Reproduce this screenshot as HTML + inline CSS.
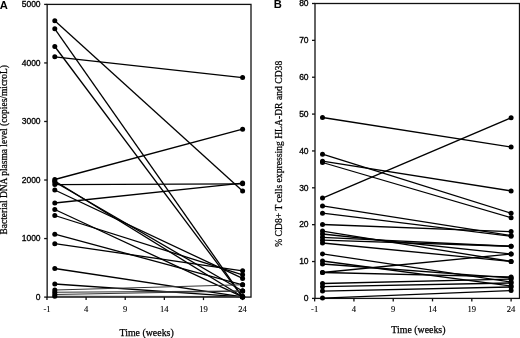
<!DOCTYPE html>
<html><head><meta charset="utf-8"><style>
html,body{margin:0;padding:0;background:#fff;}
body{width:520px;height:338px;overflow:hidden;}
svg{display:block;will-change:transform;}
.yt{font-family:"Liberation Sans",sans-serif;font-size:8.5px;fill:#000;stroke:#000;stroke-width:0.32px;}
.xt{font-family:"Liberation Serif",serif;font-size:8.6px;fill:#000;stroke:#000;stroke-width:0.12px;}
.ttl{font-family:"Liberation Serif",serif;font-size:9.9px;fill:#000;stroke:#000;stroke-width:0.25px;}
.yttl{font-family:"Liberation Serif",serif;font-size:9.45px;fill:#000;stroke:#000;stroke-width:0.25px;}
.pl{font-family:"Liberation Sans",sans-serif;font-size:11.2px;font-weight:bold;fill:#000;}
</style></head><body>
<svg width="520" height="338" viewBox="0 0 520 338">
<rect width="520" height="338" fill="#fff"/>
<rect x="47.15" y="4.4" width="203.85" height="292.70" fill="none" stroke="#111" stroke-width="1.3"/>
<line x1="44.15" y1="297.10" x2="47.15" y2="297.10" stroke="#111" stroke-width="1.3"/>
<line x1="44.15" y1="238.56" x2="47.15" y2="238.56" stroke="#111" stroke-width="1.3"/>
<line x1="44.15" y1="180.02" x2="47.15" y2="180.02" stroke="#111" stroke-width="1.3"/>
<line x1="44.15" y1="121.48" x2="47.15" y2="121.48" stroke="#111" stroke-width="1.3"/>
<line x1="44.15" y1="62.94" x2="47.15" y2="62.94" stroke="#111" stroke-width="1.3"/>
<line x1="44.15" y1="4.40" x2="47.15" y2="4.40" stroke="#111" stroke-width="1.3"/>
<line x1="46.97" y1="297.10" x2="46.97" y2="300.10" stroke="#111" stroke-width="1.3"/>
<line x1="86.10" y1="297.10" x2="86.10" y2="300.10" stroke="#111" stroke-width="1.3"/>
<line x1="125.22" y1="297.10" x2="125.22" y2="300.10" stroke="#111" stroke-width="1.3"/>
<line x1="164.35" y1="297.10" x2="164.35" y2="300.10" stroke="#111" stroke-width="1.3"/>
<line x1="203.48" y1="297.10" x2="203.48" y2="300.10" stroke="#111" stroke-width="1.3"/>
<line x1="242.60" y1="297.10" x2="242.60" y2="300.10" stroke="#111" stroke-width="1.3"/>
<line x1="54.8" y1="20.8" x2="242.6" y2="191.1" stroke="#000" stroke-width="1.3"/>
<line x1="54.8" y1="28.8" x2="242.6" y2="296.8" stroke="#000" stroke-width="1.3"/>
<line x1="54.8" y1="46.5" x2="242.6" y2="297.2" stroke="#000" stroke-width="1.3"/>
<line x1="54.8" y1="56.8" x2="242.6" y2="77.6" stroke="#000" stroke-width="1.3"/>
<line x1="54.8" y1="179.5" x2="242.6" y2="129.2" stroke="#000" stroke-width="1.3"/>
<line x1="54.8" y1="181" x2="242.6" y2="296.8" stroke="#000" stroke-width="1.3"/>
<line x1="54.8" y1="182" x2="242.6" y2="291.0" stroke="#000" stroke-width="1.3"/>
<line x1="54.8" y1="184.6" x2="242.6" y2="183.8" stroke="#000" stroke-width="1.3"/>
<line x1="54.8" y1="190" x2="242.6" y2="278.4" stroke="#000" stroke-width="1.3"/>
<line x1="54.8" y1="203" x2="242.6" y2="183.1" stroke="#000" stroke-width="1.3"/>
<line x1="54.8" y1="209.5" x2="242.6" y2="296.8" stroke="#000" stroke-width="1.3"/>
<line x1="54.8" y1="215.5" x2="242.6" y2="274.8" stroke="#000" stroke-width="1.3"/>
<line x1="54.8" y1="234.2" x2="242.6" y2="284.8" stroke="#000" stroke-width="1.3"/>
<line x1="54.8" y1="243.7" x2="242.6" y2="270.8" stroke="#000" stroke-width="1.3"/>
<line x1="54.8" y1="268.5" x2="242.6" y2="296.8" stroke="#000" stroke-width="1.3"/>
<line x1="54.8" y1="284" x2="242.6" y2="296.8" stroke="#000" stroke-width="1.3"/>
<line x1="54.8" y1="290" x2="242.6" y2="284.8" stroke="#333" stroke-width="1.05"/>
<line x1="54.8" y1="292.2" x2="242.6" y2="291.0" stroke="#333" stroke-width="1.05"/>
<line x1="54.8" y1="294.4" x2="242.6" y2="291.0" stroke="#333" stroke-width="1.05"/>
<line x1="54.8" y1="296.3" x2="242.6" y2="296.5" stroke="#333" stroke-width="1.05"/>
<circle cx="54.8" cy="20.8" r="2.5" fill="#000"/>
<circle cx="242.6" cy="191.1" r="2.5" fill="#000"/>
<circle cx="54.8" cy="28.8" r="2.5" fill="#000"/>
<circle cx="242.6" cy="296.8" r="2.5" fill="#000"/>
<circle cx="54.8" cy="46.5" r="2.5" fill="#000"/>
<circle cx="242.6" cy="297.2" r="2.5" fill="#000"/>
<circle cx="54.8" cy="56.8" r="2.5" fill="#000"/>
<circle cx="242.6" cy="77.6" r="2.5" fill="#000"/>
<circle cx="54.8" cy="179.5" r="2.5" fill="#000"/>
<circle cx="242.6" cy="129.2" r="2.5" fill="#000"/>
<circle cx="54.8" cy="181" r="2.5" fill="#000"/>
<circle cx="242.6" cy="296.8" r="2.5" fill="#000"/>
<circle cx="54.8" cy="182" r="2.5" fill="#000"/>
<circle cx="242.6" cy="291.0" r="2.5" fill="#000"/>
<circle cx="54.8" cy="184.6" r="2.5" fill="#000"/>
<circle cx="242.6" cy="183.8" r="2.5" fill="#000"/>
<circle cx="54.8" cy="190" r="2.5" fill="#000"/>
<circle cx="242.6" cy="278.4" r="2.5" fill="#000"/>
<circle cx="54.8" cy="203" r="2.5" fill="#000"/>
<circle cx="242.6" cy="183.1" r="2.5" fill="#000"/>
<circle cx="54.8" cy="209.5" r="2.5" fill="#000"/>
<circle cx="242.6" cy="296.8" r="2.5" fill="#000"/>
<circle cx="54.8" cy="215.5" r="2.5" fill="#000"/>
<circle cx="242.6" cy="274.8" r="2.5" fill="#000"/>
<circle cx="54.8" cy="234.2" r="2.5" fill="#000"/>
<circle cx="242.6" cy="284.8" r="2.5" fill="#000"/>
<circle cx="54.8" cy="243.7" r="2.5" fill="#000"/>
<circle cx="242.6" cy="270.8" r="2.5" fill="#000"/>
<circle cx="54.8" cy="268.5" r="2.5" fill="#000"/>
<circle cx="242.6" cy="296.8" r="2.5" fill="#000"/>
<circle cx="54.8" cy="284" r="2.5" fill="#000"/>
<circle cx="242.6" cy="296.8" r="2.5" fill="#000"/>
<circle cx="54.8" cy="290" r="2.5" fill="#000"/>
<circle cx="242.6" cy="284.8" r="2.5" fill="#000"/>
<circle cx="54.8" cy="292.2" r="2.5" fill="#000"/>
<circle cx="242.6" cy="291.0" r="2.5" fill="#000"/>
<circle cx="54.8" cy="294.4" r="2.5" fill="#000"/>
<circle cx="242.6" cy="291.0" r="2.5" fill="#000"/>
<circle cx="54.8" cy="296.3" r="2.5" fill="#000"/>
<circle cx="242.6" cy="296.5" r="2.5" fill="#000"/>
<rect x="315.0" y="3.5" width="204.50" height="294.90" fill="none" stroke="#111" stroke-width="1.3"/>
<line x1="312.00" y1="298.40" x2="315.00" y2="298.40" stroke="#111" stroke-width="1.3"/>
<line x1="312.00" y1="261.54" x2="315.00" y2="261.54" stroke="#111" stroke-width="1.3"/>
<line x1="312.00" y1="224.67" x2="315.00" y2="224.67" stroke="#111" stroke-width="1.3"/>
<line x1="312.00" y1="187.81" x2="315.00" y2="187.81" stroke="#111" stroke-width="1.3"/>
<line x1="312.00" y1="150.95" x2="315.00" y2="150.95" stroke="#111" stroke-width="1.3"/>
<line x1="312.00" y1="114.09" x2="315.00" y2="114.09" stroke="#111" stroke-width="1.3"/>
<line x1="312.00" y1="77.22" x2="315.00" y2="77.22" stroke="#111" stroke-width="1.3"/>
<line x1="312.00" y1="40.36" x2="315.00" y2="40.36" stroke="#111" stroke-width="1.3"/>
<line x1="312.00" y1="3.50" x2="315.00" y2="3.50" stroke="#111" stroke-width="1.3"/>
<line x1="314.64" y1="298.40" x2="314.64" y2="301.40" stroke="#111" stroke-width="1.3"/>
<line x1="353.93" y1="298.40" x2="353.93" y2="301.40" stroke="#111" stroke-width="1.3"/>
<line x1="393.23" y1="298.40" x2="393.23" y2="301.40" stroke="#111" stroke-width="1.3"/>
<line x1="432.52" y1="298.40" x2="432.52" y2="301.40" stroke="#111" stroke-width="1.3"/>
<line x1="471.81" y1="298.40" x2="471.81" y2="301.40" stroke="#111" stroke-width="1.3"/>
<line x1="511.10" y1="298.40" x2="511.10" y2="301.40" stroke="#111" stroke-width="1.3"/>
<line x1="322.5" y1="117.5" x2="511.1" y2="147.0" stroke="#000" stroke-width="1.3"/>
<line x1="322.5" y1="154.2" x2="511.1" y2="213.2" stroke="#000" stroke-width="1.3"/>
<line x1="322.5" y1="161.2" x2="511.1" y2="190.9" stroke="#000" stroke-width="1.3"/>
<line x1="322.5" y1="162.5" x2="511.1" y2="217.7" stroke="#000" stroke-width="1.3"/>
<line x1="322.5" y1="198.1" x2="511.1" y2="117.8" stroke="#000" stroke-width="1.3"/>
<line x1="322.5" y1="205.9" x2="511.1" y2="235.5" stroke="#000" stroke-width="1.3"/>
<line x1="322.5" y1="213.2" x2="511.1" y2="236.3" stroke="#000" stroke-width="1.3"/>
<line x1="322.5" y1="224.5" x2="511.1" y2="231.6" stroke="#000" stroke-width="1.3"/>
<line x1="322.5" y1="231.1" x2="511.1" y2="261.4" stroke="#000" stroke-width="1.3"/>
<line x1="322.5" y1="234" x2="511.1" y2="254" stroke="#000" stroke-width="1.3"/>
<line x1="322.5" y1="237.3" x2="511.1" y2="246.3" stroke="#000" stroke-width="1.3"/>
<line x1="322.5" y1="240.2" x2="511.1" y2="246.3" stroke="#000" stroke-width="1.3"/>
<line x1="322.5" y1="243" x2="511.1" y2="261.4" stroke="#000" stroke-width="1.3"/>
<line x1="322.5" y1="253.9" x2="511.1" y2="282" stroke="#000" stroke-width="1.3"/>
<line x1="322.5" y1="261" x2="511.1" y2="286" stroke="#000" stroke-width="1.3"/>
<line x1="322.5" y1="264" x2="511.1" y2="278" stroke="#000" stroke-width="1.3"/>
<line x1="322.5" y1="272.5" x2="511.1" y2="254" stroke="#000" stroke-width="1.3"/>
<line x1="322.5" y1="272.5" x2="511.1" y2="277" stroke="#000" stroke-width="1.3"/>
<line x1="322.5" y1="283.5" x2="511.1" y2="279" stroke="#000" stroke-width="1.3"/>
<line x1="322.5" y1="286.7" x2="511.1" y2="283" stroke="#000" stroke-width="1.3"/>
<line x1="322.5" y1="291.1" x2="511.1" y2="287" stroke="#000" stroke-width="1.3"/>
<line x1="322.5" y1="298.1" x2="511.1" y2="290.5" stroke="#000" stroke-width="1.3"/>
<circle cx="322.5" cy="117.5" r="2.5" fill="#000"/>
<circle cx="511.1" cy="147.0" r="2.5" fill="#000"/>
<circle cx="322.5" cy="154.2" r="2.5" fill="#000"/>
<circle cx="511.1" cy="213.2" r="2.5" fill="#000"/>
<circle cx="322.5" cy="161.2" r="2.5" fill="#000"/>
<circle cx="511.1" cy="190.9" r="2.5" fill="#000"/>
<circle cx="322.5" cy="162.5" r="2.5" fill="#000"/>
<circle cx="511.1" cy="217.7" r="2.5" fill="#000"/>
<circle cx="322.5" cy="198.1" r="2.5" fill="#000"/>
<circle cx="511.1" cy="117.8" r="2.5" fill="#000"/>
<circle cx="322.5" cy="205.9" r="2.5" fill="#000"/>
<circle cx="511.1" cy="235.5" r="2.5" fill="#000"/>
<circle cx="322.5" cy="213.2" r="2.5" fill="#000"/>
<circle cx="511.1" cy="236.3" r="2.5" fill="#000"/>
<circle cx="322.5" cy="224.5" r="2.5" fill="#000"/>
<circle cx="511.1" cy="231.6" r="2.5" fill="#000"/>
<circle cx="322.5" cy="231.1" r="2.5" fill="#000"/>
<circle cx="511.1" cy="261.4" r="2.5" fill="#000"/>
<circle cx="322.5" cy="234" r="2.5" fill="#000"/>
<circle cx="511.1" cy="254" r="2.5" fill="#000"/>
<circle cx="322.5" cy="237.3" r="2.5" fill="#000"/>
<circle cx="511.1" cy="246.3" r="2.5" fill="#000"/>
<circle cx="322.5" cy="240.2" r="2.5" fill="#000"/>
<circle cx="511.1" cy="246.3" r="2.5" fill="#000"/>
<circle cx="322.5" cy="243" r="2.5" fill="#000"/>
<circle cx="511.1" cy="261.4" r="2.5" fill="#000"/>
<circle cx="322.5" cy="253.9" r="2.5" fill="#000"/>
<circle cx="511.1" cy="282" r="2.5" fill="#000"/>
<circle cx="322.5" cy="261" r="2.5" fill="#000"/>
<circle cx="511.1" cy="286" r="2.5" fill="#000"/>
<circle cx="322.5" cy="264" r="2.5" fill="#000"/>
<circle cx="511.1" cy="278" r="2.5" fill="#000"/>
<circle cx="322.5" cy="272.5" r="2.5" fill="#000"/>
<circle cx="511.1" cy="254" r="2.5" fill="#000"/>
<circle cx="322.5" cy="272.5" r="2.5" fill="#000"/>
<circle cx="511.1" cy="277" r="2.5" fill="#000"/>
<circle cx="322.5" cy="283.5" r="2.5" fill="#000"/>
<circle cx="511.1" cy="279" r="2.5" fill="#000"/>
<circle cx="322.5" cy="286.7" r="2.5" fill="#000"/>
<circle cx="511.1" cy="283" r="2.5" fill="#000"/>
<circle cx="322.5" cy="291.1" r="2.5" fill="#000"/>
<circle cx="511.1" cy="287" r="2.5" fill="#000"/>
<circle cx="322.5" cy="298.1" r="2.5" fill="#000"/>
<circle cx="511.1" cy="290.5" r="2.5" fill="#000"/>
<text x="40.6" y="299.80" text-anchor="end" class="yt">0</text>
<text x="40.6" y="241.26" text-anchor="end" class="yt">1000</text>
<text x="40.6" y="182.72" text-anchor="end" class="yt">2000</text>
<text x="40.6" y="124.18" text-anchor="end" class="yt">3000</text>
<text x="40.6" y="65.64" text-anchor="end" class="yt">4000</text>
<text x="40.6" y="7.10" text-anchor="end" class="yt">5000</text>
<text x="308.6" y="301.10" text-anchor="end" class="yt">0</text>
<text x="308.6" y="264.24" text-anchor="end" class="yt">10</text>
<text x="308.6" y="227.37" text-anchor="end" class="yt">20</text>
<text x="308.6" y="190.51" text-anchor="end" class="yt">30</text>
<text x="308.6" y="153.65" text-anchor="end" class="yt">40</text>
<text x="308.6" y="116.79" text-anchor="end" class="yt">50</text>
<text x="308.6" y="79.92" text-anchor="end" class="yt">60</text>
<text x="308.6" y="43.06" text-anchor="end" class="yt">70</text>
<text x="308.6" y="6.20" text-anchor="end" class="yt">80</text>
<text x="46.97" y="312.3" text-anchor="middle" class="xt">-1</text>
<text x="86.10" y="312.3" text-anchor="middle" class="xt">4</text>
<text x="125.22" y="312.3" text-anchor="middle" class="xt">9</text>
<text x="164.35" y="312.3" text-anchor="middle" class="xt">14</text>
<text x="203.48" y="312.3" text-anchor="middle" class="xt">19</text>
<text x="242.60" y="312.3" text-anchor="middle" class="xt">24</text>
<text x="314.64" y="312.3" text-anchor="middle" class="xt">-1</text>
<text x="353.93" y="312.3" text-anchor="middle" class="xt">4</text>
<text x="393.23" y="312.3" text-anchor="middle" class="xt">9</text>
<text x="432.52" y="312.3" text-anchor="middle" class="xt">14</text>
<text x="471.81" y="312.3" text-anchor="middle" class="xt">19</text>
<text x="511.10" y="312.3" text-anchor="middle" class="xt">24</text>
<text x="146.6" y="335.6" text-anchor="middle" class="ttl">Time (weeks)</text>
<text x="418.4" y="332.8" text-anchor="middle" class="ttl">Time (weeks)</text>
<text transform="translate(6.9,149.8) rotate(-90)" text-anchor="middle" class="yttl">Bacterial DNA plasma level (copies/microL)</text>
<text transform="translate(282.0,153.8) rotate(-90)" text-anchor="middle" class="yttl" style="font-size:9.65px">% CD8+ T cells expressing HLA-DR and CD38</text>
<text x="-0.3" y="9.0" class="pl">A</text>
<text x="273.7" y="8.4" class="pl">B</text>
</svg>
</body></html>
